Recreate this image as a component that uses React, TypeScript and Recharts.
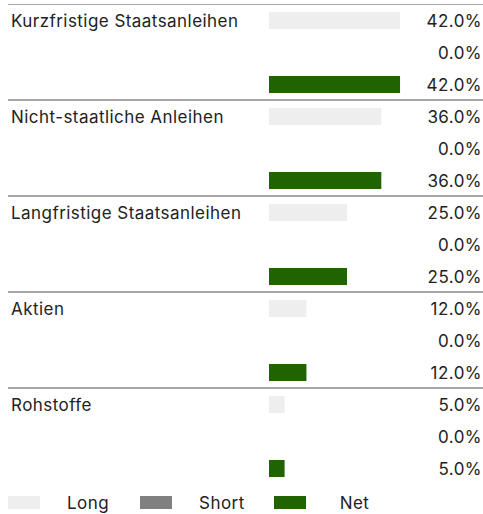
import React from 'react';
import { BarChart, Bar, XAxis, YAxis, Legend, LabelList } from 'recharts';

const categories = [
  'Kurzfristige Staatsanleihen',
  'Nicht-staatliche Anleihen',
  'Langfristige Staatsanleihen',
  'Aktien',
  'Rohstoffe',
];
const longValues = [42, 36, 25, 12, 5];
const shortValues = [0, 0, 0, 0, 0];
const netValues = [42, 36, 25, 12, 5];

const seriesNames = ['Long', 'Short', 'Net'];
const seriesColors = ['#eeeeee', '#808080', '#1f6400'];

const data = categories.map((c, i) => ({
  name: c,
  Long: longValues[i],
  Short: shortValues[i],
  Net: netValues[i],
}));

const FONT = 'Inter, "Noto Sans", sans-serif';
const FS = 17;
const LS = 0.45;
const W = 475;
const H = 510;
const BAND = 96;
const ROW = 32;

const fmt = (v: number) => Number(v).toFixed(1) + '%';

const CategoryTick = (props: any) => {
  const { y, payload } = props;
  return (
    <g>
      <line x1={0} x2={W} y1={y - BAND / 2} y2={y - BAND / 2} stroke="#a6a6a6" strokeWidth={2} />
      <text x={3} y={y - 25} fontSize={FS} letterSpacing={LS} fill="#222" fontFamily={FONT} textAnchor="start">
        {payload.value}
      </text>
    </g>
  );
};

const valueText = (yc: number, v: number, key: string) => (
  <text key={key} x={W - 1} y={yc + 6} fontSize={FS} letterSpacing={LS} fill="#222" fontFamily={FONT} textAnchor="end">
    {fmt(v)}
  </text>
);

// Long bar label also carries the Short value of the same category one row below
const LongLabel = (props: any) => {
  const { y, height, value, index } = props;
  const yc = y + height / 2;
  return (
    <g>
      {valueText(yc, value, 'l')}
      {valueText(yc + ROW, shortValues[index], 's')}
    </g>
  );
};

const NetLabel = (props: any) => {
  const { y, height, value } = props;
  return valueText(y + height / 2, value, 'n');
};

const LegendContent = () => (
  <div style={{ display: 'flex', alignItems: 'center', height: 30, fontFamily: FONT, fontSize: FS, letterSpacing: LS, color: '#222' }}>
    {seriesNames.map((n, i) => (
      <div key={n} style={{ display: 'flex', alignItems: 'center', marginRight: i === 0 ? 31 : 29 }}>
        <div style={{ width: 32, height: 13, background: seriesColors[i], marginRight: i === 2 ? 34 : 27, marginTop: 7 }} />
        <span style={{ marginTop: 7 }}>{n}</span>
      </div>
    ))}
  </div>
);

export default function App() {
  return (
    <div style={{ position: 'absolute', top: 4, left: 8, width: W, height: H }}>
      <BarChart
        width={W}
        height={H}
        data={data}
        layout="vertical"
        margin={{ top: 0, right: 58, bottom: 0, left: 0 }}
        barCategoryGap={0}
        barGap={15}
        barSize={17}
      >
        <XAxis type="number" domain={[0, 50]} hide />
        <YAxis
          type="category"
          dataKey="name"
          width={261}
          axisLine={false}
          tickLine={false}
          tick={<CategoryTick />}
          interval={0}
        />
        <Legend
          verticalAlign="bottom"
          content={<LegendContent />}
          wrapperStyle={{ left: 0, width: W, height: 30, bottom: 0 }}
        />
        <Bar dataKey="Long" fill={seriesColors[0]} isAnimationActive={false}>
          <LabelList dataKey="Long" content={<LongLabel />} />
        </Bar>
        <Bar dataKey="Short" fill={seriesColors[1]} isAnimationActive={false} />
        <Bar dataKey="Net" fill={seriesColors[2]} isAnimationActive={false}>
          <LabelList dataKey="Net" content={<NetLabel />} />
        </Bar>
      </BarChart>
    </div>
  );
}
